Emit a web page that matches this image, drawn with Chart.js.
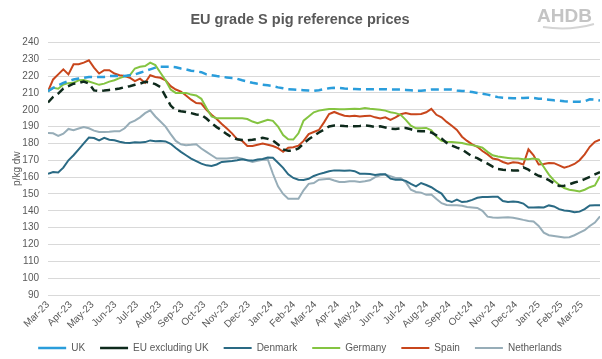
<!DOCTYPE html>
<html>
<head>
<meta charset="utf-8">
<title>EU grade S pig reference prices</title>
<script src="https://cdn.jsdelivr.net/npm/chart.js@4.4.1/dist/chart.umd.min.js"></script>
<style>
  html, body { margin: 0; padding: 0; background: #fff; }
  #wrap { width: 602px; height: 359px; }
</style>
</head>
<body>
<div id="wrap"><canvas id="pigChart" width="602" height="359"></canvas></div>
<script>
// weekly prices, p/kg dw, first week starting 5 Mar 2023
const startDate = new Date(2023, 2, 5);

const monthLabels = [
    "Mar-23", "Apr-23", "May-23", "Jun-23", "Jul-23", "Aug-23", "Sep-23", "Oct-23",
    "Nov-23", "Dec-23", "Jan-24", "Feb-24", "Mar-24", "Apr-24", "May-24", "Jun-24",
    "Jul-24", "Aug-24", "Sep-24", "Oct-24", "Nov-24", "Dec-24", "Jan-25", "Feb-25", "Mar-25",
];

const ukPrices = [
    211, 213, 214.5, 216, 217, 218, 218.5, 219, 219.5, 219.5, 219.5, 219.5, 220, 220, 220, 220,
    220.5, 221, 222, 223, 224, 225, 225.5, 225.5, 225.5, 225.2,
    224.5, 224, 223.2, 222.8, 222.3, 221, 220.5, 220, 219.6, 219.2, 218.8, 218.4, 217.5, 216.8,
    216, 215.4, 214.9, 214.5, 214, 213.3, 212.8, 212.2, 212, 211.8, 211.6, 211.4, 211.2, 211.6,
    212.2, 212.8, 213, 212.9, 212.6, 212.4, 212.3, 212.2, 212.2, 212.2, 212.2,
    212.2, 212.2, 212, 212, 212, 211.8, 211.6, 211.3, 211.3, 211.6, 212, 212, 212, 212, 212,
    211.5, 211.2, 211, 210.5, 210, 209.5, 209, 208.3, 207.5, 207.2, 207, 206.8, 206.8, 207,
    207.2, 207, 206.6, 206.4, 206, 205.6, 205.4, 205, 204.8, 204.8, 204.8, 205, 206.2, 206, 205.5,
];

const euExUkPrices = [
    204.3, 207.6, 209.6, 212.6, 214, 215.5, 215.9, 216.8, 215.6, 211.5, 211.1, 211.4, 211.8,
    212.1, 212.6, 213.4, 214, 214.8, 215.5, 216.6, 216.2, 215.2, 213.5, 208, 202.5, 199.6,
    199.1, 198.7, 198, 197.2,
    197, 194.8, 192, 189.7, 187.8, 185.5, 183.6, 182.5, 182.1, 181.9, 182.2, 182.7, 183.3,
    182.7, 181.7, 179.4, 176.5, 175.6, 175.7, 177, 180, 182.5, 184.5, 186.5, 188.2, 190.1,
    190.6, 190.6, 190.3, 190.2, 190.2, 190.4, 190.7, 190.3, 189.8,
    190.2, 189.5, 188.8, 188.6, 188.9, 189.2, 188.4, 187.5, 187.2, 187.2, 186.5, 184.8, 182.9,
    180.3, 178.7, 177.5, 176.5, 174.3, 172.2, 171.3, 169.5, 168, 166.2, 164.8, 164.4, 164.2,
    164, 164, 165.8, 164.4, 162.3, 160.8, 159.8, 158.2, 156.3, 154.8, 154.9, 155.7, 156.8,
    157.6, 158.8, 160.2, 161.6, 163,
];

const denmarkPrices = [
    162, 163, 162.7, 165.6, 170, 173, 176.5, 180, 183.5, 183.2, 181.8, 183.3, 182.2, 181.9,
    181, 180.4, 180.3, 180.7, 180.6, 180.8, 181.8, 181.3, 181.4, 181.2, 179.8, 177.3,
    175, 173, 171, 169.5, 168, 167, 166.6, 167.5, 169, 169.3, 169.6, 170, 170.6, 170, 169.8,
    170.5, 170.8, 171.6, 171.5, 168.5, 165.5, 161.7, 159.5, 158.5, 158.3, 159, 160.7, 161.8,
    162.6, 163.5, 164, 164, 163.8, 164, 163.5, 162, 162, 161.8, 161.3,
    161.7, 161.7, 159.1, 158.5, 158.5, 157.8, 156, 154.5, 156.5, 155.3, 154, 152, 150.2,
    146.2, 145.2, 146.6, 145.2, 145.5, 146.5, 147.7, 148.2, 148.2, 148.3, 148.4, 145.8, 145.3,
    145.5, 145.2, 144.3, 142, 142, 142.1, 142, 143.2, 142.6, 141, 140.2, 139.9, 139.2, 139.5,
    141, 143.2, 143.3, 143.3,
];

const germanyPrices = [
    211, 213, 212.5, 215, 215.8, 216, 217.5, 217.6, 216.8, 215.8, 214.8, 215.5, 216.7, 217.5,
    218.8, 219.8, 220.5, 224.5, 225.5, 226, 228, 226.5, 222, 217.5, 212, 210, 210, 210, 209, 208.5,
    206.5, 201, 196, 195, 195, 195, 195, 195, 195, 194.5, 193, 192, 193, 194, 193.4, 190, 185,
    182.5, 182.3, 186, 193.5, 196, 198.5, 199.5, 200, 200.5, 200.5, 200.3, 200.3, 200.5, 200.6,
    200.5, 201, 200.6, 200.3,
    200, 199.5, 198.5, 198, 197, 194, 190.5, 189, 189, 189.2, 187.8, 184, 181.5, 181, 180.8,
    180.5, 180.2, 179.5, 179, 178.3, 177.5, 175, 173, 172.2, 171.8, 171.4, 171, 171, 170.6,
    170.6, 171, 170.5, 166, 161.5, 158, 155.5, 153.5, 152.5, 152, 151.5, 152.5, 154, 155, 160.5,
];

const spainPrices = [
    211, 218, 221, 224, 221, 227, 227, 228, 229.4, 225, 221.5, 223.5, 223.5, 221.5, 220.5, 220,
    219, 217, 218.5, 216, 220.5, 219.5, 219, 217.5, 214, 212, 210.8, 208.5, 206, 204,
    203.7, 200, 197, 194.5, 191.5, 188.8, 186, 182.5, 181.5, 178.5, 178.5, 179.2, 179.9, 179.2,
    178.5, 177.2, 175, 177.5, 177.7, 178.7, 181.5, 185.5, 186.8, 188, 192.5, 197.5, 198.7,
    197.5, 196.5, 196.2, 196.5, 196, 196.3, 196.5, 195.5,
    194.8, 195.5, 194, 195.5, 197.3, 198, 197.3, 197.3, 197.5, 198.5, 200.5, 197, 195.5, 192.8,
    190.5, 188, 184, 181.5, 179.5, 178, 175.5, 173.5, 171, 170.5, 169, 168, 168.8, 168.5, 167.5,
    176.5, 173, 167.5, 167.8, 168.4, 168.3, 167, 165.6, 166.5, 167.8, 170, 173.5, 178, 181, 182.3,
];

const netherlandsPrices = [
    186.2, 186, 184.5, 185.8, 188.6, 187.8, 188.9, 189.8, 189, 187.6, 186.8, 186.8, 186.9,
    187.3, 187.2, 189, 192.3, 193.5, 195.5, 198, 199.7, 196, 193, 190, 185.5, 181.5, 179.5,
    179, 179.2, 179.5,
    177, 175, 173, 171, 171, 171, 171.3, 171.6, 171, 170, 169, 169.7, 170.3, 170.5, 162, 154.5,
    150, 147.2, 147.2, 147.2, 152.2, 156, 156.5, 158.5, 158.8, 159, 158, 157.1, 157.1, 157.5,
    157.5, 157.1, 157.5, 158.1, 160,
    161.1, 161.5, 160.5, 159.5, 159.5, 157, 152.5, 151.2, 150.8, 149.5, 149.7, 147, 144.5,
    143.5, 143.3, 143.3, 143, 142.3, 142, 141.7, 140, 136.5, 136, 135.8, 136, 136.2, 135.9,
    135.3, 134.6, 134, 133.6, 131, 127, 125.5, 125.1, 124.6, 124.1, 124.3, 125.5, 127, 128.5,
    131, 133, 136.7,
];

const fontFamily = "'Liberation Sans', Arial, sans-serif";
const textGrey = "#595959";

// day offset of each weekly observation
const weekDays = ukPrices.map((_, i) => i * 7);

function monthTickDay(m) {
    const d = new Date(startDate.getFullYear(), startDate.getMonth() + m, startDate.getDate());
    return Math.round((d - startDate) / 86400000);
}

function toPoints(values) {
    return values.map((v, i) => ({ x: weekDays[i], y: v }));
}

function series(label, values, color, dashed) {
    return {
        label,
        data: toPoints(values),
        borderColor: color,
        backgroundColor: color,
        borderWidth: dashed ? 2.5 : 2,
        borderDash: dashed ? [8, 5] : [],
        pointRadius: 0,
        tension: 0,
        fill: false,
    };
}

// grey AHDB mark in the top right corner
const logoPlugin = {
    id: "ahdbLogo",
    afterDraw(chart) {
        const c = chart.ctx;
        c.save();
        c.fillStyle = "#c4c4c4";
        c.font = "bold 19px " + fontFamily;
        c.textAlign = "right";
        c.textBaseline = "alphabetic";
        c.fillText("AHDB", 592, 22);
        c.strokeStyle = "#d4d4d4";
        c.lineWidth = 2;
        c.beginPath();
        c.moveTo(543, 27);
        c.quadraticCurveTo(570, 31, 594, 24);
        c.stroke();
        c.restore();
    },
};

const ctx = document.getElementById("pigChart");

new Chart(ctx, {
    type: "line",
    data: {
        datasets: [
            series("UK", ukPrices, "#2a9ddb", true),
            series("EU excluding UK", euExUkPrices, "#0e2a1c", true),
            series("Denmark", denmarkPrices, "#2a6a84", false),
            series("Germany", germanyPrices, "#84c441", false),
            series("Spain", spainPrices, "#c8461c", false),
            series("Netherlands", netherlandsPrices, "#97adb8", false),
        ],
    },
    options: {
        responsive: false,
        animation: false,
        devicePixelRatio: 1,
        layout: {
            padding: { top: 5, right: 2, left: 0, bottom: -4 },
        },
        scales: {
            x: {
                type: "linear",
                min: 0,
                max: weekDays[weekDays.length - 1],
                grid: { display: false, drawTicks: false },
                border: { display: false },
                afterBuildTicks: (scale) => {
                    scale.ticks = monthLabels.map((_, m) => ({ value: monthTickDay(m) }));
                },
                afterFit: (scale) => {
                    scale.height = 33;
                },
                ticks: {
                    autoSkip: false,
                    maxRotation: 45,
                    minRotation: 45,
                    padding: 4,
                    color: textGrey,
                    font: { family: fontFamily, size: 10 },
                    callback: (value, index) => monthLabels[index],
                },
            },
            y: {
                min: 90,
                max: 240,
                grid: { color: "#d9d9d9", drawTicks: false, lineWidth: 1 },
                border: { display: false },
                afterFit: (scale) => {
                    scale.width = 48;
                },
                ticks: {
                    stepSize: 10,
                    padding: 9,
                    color: textGrey,
                    font: { family: fontFamily, size: 10 },
                },
                title: {
                    display: true,
                    text: "p/kg dw",
                    color: textGrey,
                    padding: { top: 11, bottom: 0 },
                    font: { family: fontFamily, size: 10 },
                },
            },
        },
        plugins: {
            title: {
                display: true,
                text: "EU grade S pig reference prices",
                color: textGrey,
                font: { family: fontFamily, size: 14.5, weight: "bold" },
                padding: { top: 6, bottom: 14 },
            },
            legend: {
                position: "bottom",
                labels: {
                    usePointStyle: true,
                    pointStyle: "line",
                    pointStyleWidth: 28,
                    padding: 15,
                    color: textGrey,
                    font: { family: fontFamily, size: 10 },
                },
            },
            tooltip: { enabled: false },
        },
    },
    plugins: [logoPlugin],
});
</script>
</body>
</html>
